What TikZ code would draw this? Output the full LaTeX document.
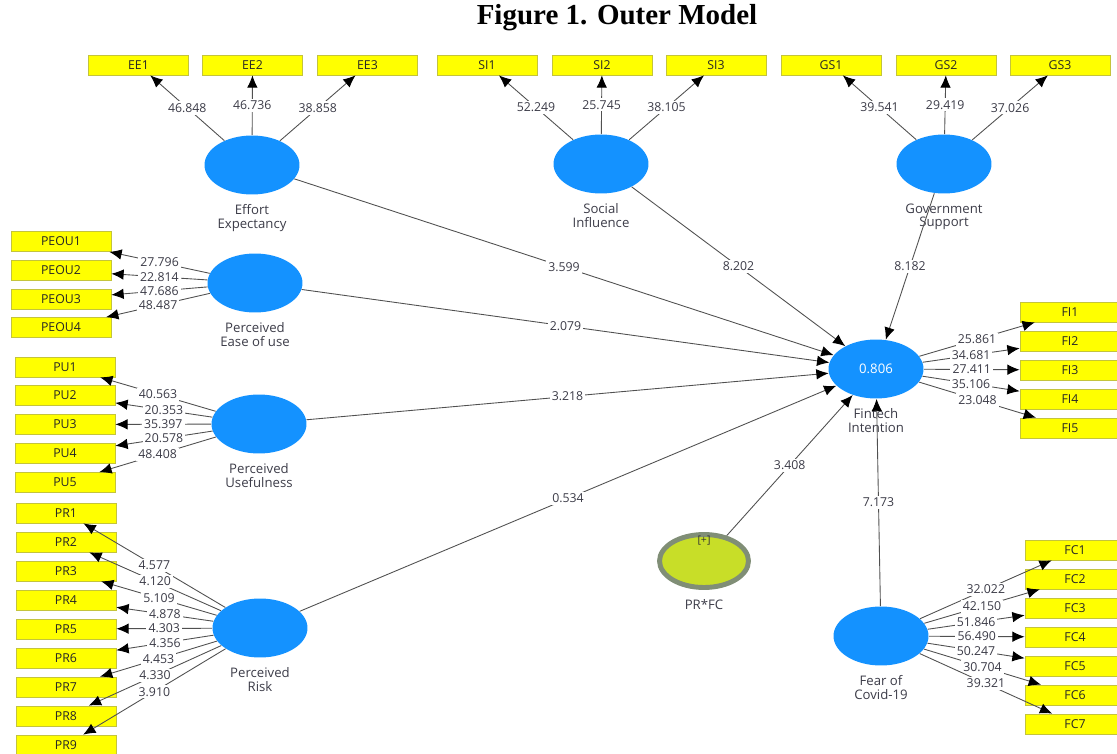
\documentclass[tikz,border=0pt]{standalone}
\usepackage{fontspec}
\setmainfont{Open Sans}
\newfontfamily\titlefont{Liberation Serif}
\usetikzlibrary{shapes.geometric,arrows.meta}
\definecolor{plsblue}{RGB}{20,146,255}
\definecolor{boxyellow}{RGB}{255,255,0}
\definecolor{boxedge}{RGB}{196,196,60}
\definecolor{ringgray}{RGB}{128,142,118}
\definecolor{modgreen}{RGB}{200,222,40}
\definecolor{txtgray}{RGB}{60,60,72}
\definecolor{linegray}{RGB}{80,80,80}
\begin{document}
\begin{tikzpicture}[x=0.02cm,y=-0.02cm,
  lv/.style={ellipse,fill=plsblue,minimum width=1.9cm,minimum height=1.18cm,inner sep=0pt},
  modv/.style={ellipse,draw=ringgray,line width=2.8pt,fill=modgreen,minimum width=1.78cm,minimum height=1.06cm,inner sep=0pt},
  mv/.style={draw=boxedge,fill=boxyellow,minimum width=2cm,minimum height=0.4cm,inner sep=0pt,font=\fontsize{7}{8}\selectfont,text=black!85},
  lvtxt/.style={font=\fontsize{7.5}{7.6}\selectfont,text=txtgray,align=center,inner sep=0pt,yshift=-0.19cm},
  w/.style={fill=white,inner sep=1.2pt,font=\fontsize{7}{8}\selectfont,text=txtgray},
  ld/.style={draw=linegray,line width=0.5pt,-{Latex[length=7pt,width=6pt,black]}}]
\useasboundingbox (0,0) rectangle (1117,754);
\node[font=\titlefont\bfseries\fontsize{16.5}{18}\selectfont] (title) at (617,18) {Figure 1. Outer Model};
% latent variables
\node[lv,label={[lvtxt]below:{Effort\\Expectancy}}] (EE) at (252,165) {};
\node[lv,label={[lvtxt]below:{Social\\Influence}}] (SI) at (601,164) {};
\node[lv,label={[lvtxt]below:{Government\\Support}}] (GS) at (944,164) {};
\node[lv,label={[lvtxt]below:{Perceived\\Ease of use}}] (PEOU) at (255,283) {};
\node[lv,label={[lvtxt]below:{Perceived\\Usefulness}}] (PU) at (259,424) {};
\node[lv,label={[lvtxt]below:{Perceived\\Risk}}] (PR) at (260,628) {};
\node[lv,text=white,font=\fontsize{7.5}{8}\selectfont,label={[lvtxt]below:{Fintech\\Intention}}] (FI) at (876,369) {0.806};
\node[lv,label={[lvtxt]below:{Fear of\\Covid-19}}] (FC) at (881,636) {};
\node[modv,label={[lvtxt]below:{PR*FC}},label={[font=\fontsize{6}{6}\selectfont,text=black!80,anchor=north,inner sep=0pt,yshift=-2pt]north:{[+]}}] (PRFC) at (704,561) {};
% indicators
\node[mv] (EE1) at (138.5,65) {EE1};
\node[mv] (EE2) at (252.5,65) {EE2};
\node[mv] (EE3) at (367.5,65) {EE3};
\node[mv] (SI1) at (487,65) {SI1};
\node[mv] (SI2) at (602,65) {SI2};
\node[mv] (SI3) at (716,65) {SI3};
\node[mv] (GS1) at (831,65) {GS1};
\node[mv] (GS2) at (946,65) {GS2};
\node[mv] (GS3) at (1060,65) {GS3};
\node[mv] (PEOU1) at (61,241.5) {PEOU1};
\node[mv] (PEOU2) at (61,270.5) {PEOU2};
\node[mv] (PEOU3) at (61,299) {PEOU3};
\node[mv] (PEOU4) at (61,327.5) {PEOU4};
\node[mv] (PU1) at (65,367) {PU1};
\node[mv] (PU2) at (65,395.5) {PU2};
\node[mv] (PU3) at (65,424.5) {PU3};
\node[mv] (PU4) at (65,453.5) {PU4};
\node[mv] (PU5) at (65,482.5) {PU5};
\node[mv] (PR1) at (66,513) {PR1};
\node[mv] (PR2) at (66,542) {PR2};
\node[mv] (PR3) at (66,571) {PR3};
\node[mv] (PR4) at (66,600) {PR4};
\node[mv] (PR5) at (66,629) {PR5};
\node[mv] (PR6) at (66,658) {PR6};
\node[mv] (PR7) at (66,687) {PR7};
\node[mv] (PR8) at (66,716) {PR8};
\node[mv] (PR9) at (66,745) {PR9};
\node[mv] (FI1) at (1070,312) {FI1};
\node[mv] (FI2) at (1070,341) {FI2};
\node[mv] (FI3) at (1070,370) {FI3};
\node[mv] (FI4) at (1070,399) {FI4};
\node[mv] (FI5) at (1070,428) {FI5};
\node[mv] (FC1) at (1075,550) {FC1};
\node[mv] (FC2) at (1075,579) {FC2};
\node[mv] (FC3) at (1075,608) {FC3};
\node[mv] (FC4) at (1075,637) {FC4};
\node[mv] (FC5) at (1075,666) {FC5};
\node[mv] (FC6) at (1075,695) {FC6};
\node[mv] (FC7) at (1075,724) {FC7};
% outer loadings
\draw[ld] (EE) -- node[w]{46.848} (EE1);
\draw[ld] (EE) -- node[w]{46.736} (EE2);
\draw[ld] (EE) -- node[w]{38.858} (EE3);
\draw[ld] (SI) -- node[w]{52.249} (SI1);
\draw[ld] (SI) -- node[w]{25.745} (SI2);
\draw[ld] (SI) -- node[w]{38.105} (SI3);
\draw[ld] (GS) -- node[w]{39.541} (GS1);
\draw[ld] (GS) -- node[w]{29.419} (GS2);
\draw[ld] (GS) -- node[w]{37.026} (GS3);
\draw[ld] (PEOU) -- node[w]{27.796} (PEOU1);
\draw[ld] (PEOU) -- node[w]{22.814} (PEOU2);
\draw[ld] (PEOU) -- node[w]{47.686} (PEOU3);
\draw[ld] (PEOU) -- node[w]{48.487} (PEOU4);
\draw[ld] (PU) -- node[w]{40.563} (PU1);
\draw[ld] (PU) -- node[w]{20.353} (PU2);
\draw[ld] (PU) -- node[w]{35.397} (PU3);
\draw[ld] (PU) -- node[w]{20.578} (PU4);
\draw[ld] (PU) -- node[w]{48.408} (PU5);
\draw[ld] (PR) -- node[w]{4.577} (PR1);
\draw[ld] (PR) -- node[w]{4.120} (PR2);
\draw[ld] (PR) -- node[w]{5.109} (PR3);
\draw[ld] (PR) -- node[w]{4.878} (PR4);
\draw[ld] (PR) -- node[w]{4.303} (PR5);
\draw[ld] (PR) -- node[w]{4.356} (PR6);
\draw[ld] (PR) -- node[w]{4.453} (PR7);
\draw[ld] (PR) -- node[w]{4.330} (PR8);
\draw[ld] (PR) -- node[w]{3.910} (PR9);
\draw[ld] (FI) -- node[w]{25.861} (FI1);
\draw[ld] (FI) -- node[w]{34.681} (FI2);
\draw[ld] (FI) -- node[w]{27.411} (FI3);
\draw[ld] (FI) -- node[w]{35.106} (FI4);
\draw[ld] (FI) -- node[w]{23.048} (FI5);
\draw[ld] (FC) -- node[w]{32.022} (FC1);
\draw[ld] (FC) -- node[w]{42.150} (FC2);
\draw[ld] (FC) -- node[w]{51.846} (FC3);
\draw[ld] (FC) -- node[w]{56.490} (FC4);
\draw[ld] (FC) -- node[w]{50.247} (FC5);
\draw[ld] (FC) -- node[w]{30.704} (FC6);
\draw[ld] (FC) -- node[w]{39.321} (FC7);
% inner model
\draw[ld] (EE) -- node[w]{3.599} (FI);
\draw[ld] (SI) -- node[w]{8.202} (FI);
\draw[ld] (GS) -- node[w]{8.182} (FI);
\draw[ld] (PEOU) -- node[w]{2.079} (FI);
\draw[ld] (PU) -- node[w]{3.218} (FI);
\draw[ld] (PR) -- node[w]{0.534} (FI);
\draw[ld] (PRFC) -- node[w]{3.408} (FI);
\draw[ld] (FC) -- node[w]{7.173} (FI);
\end{tikzpicture}
\end{document}
